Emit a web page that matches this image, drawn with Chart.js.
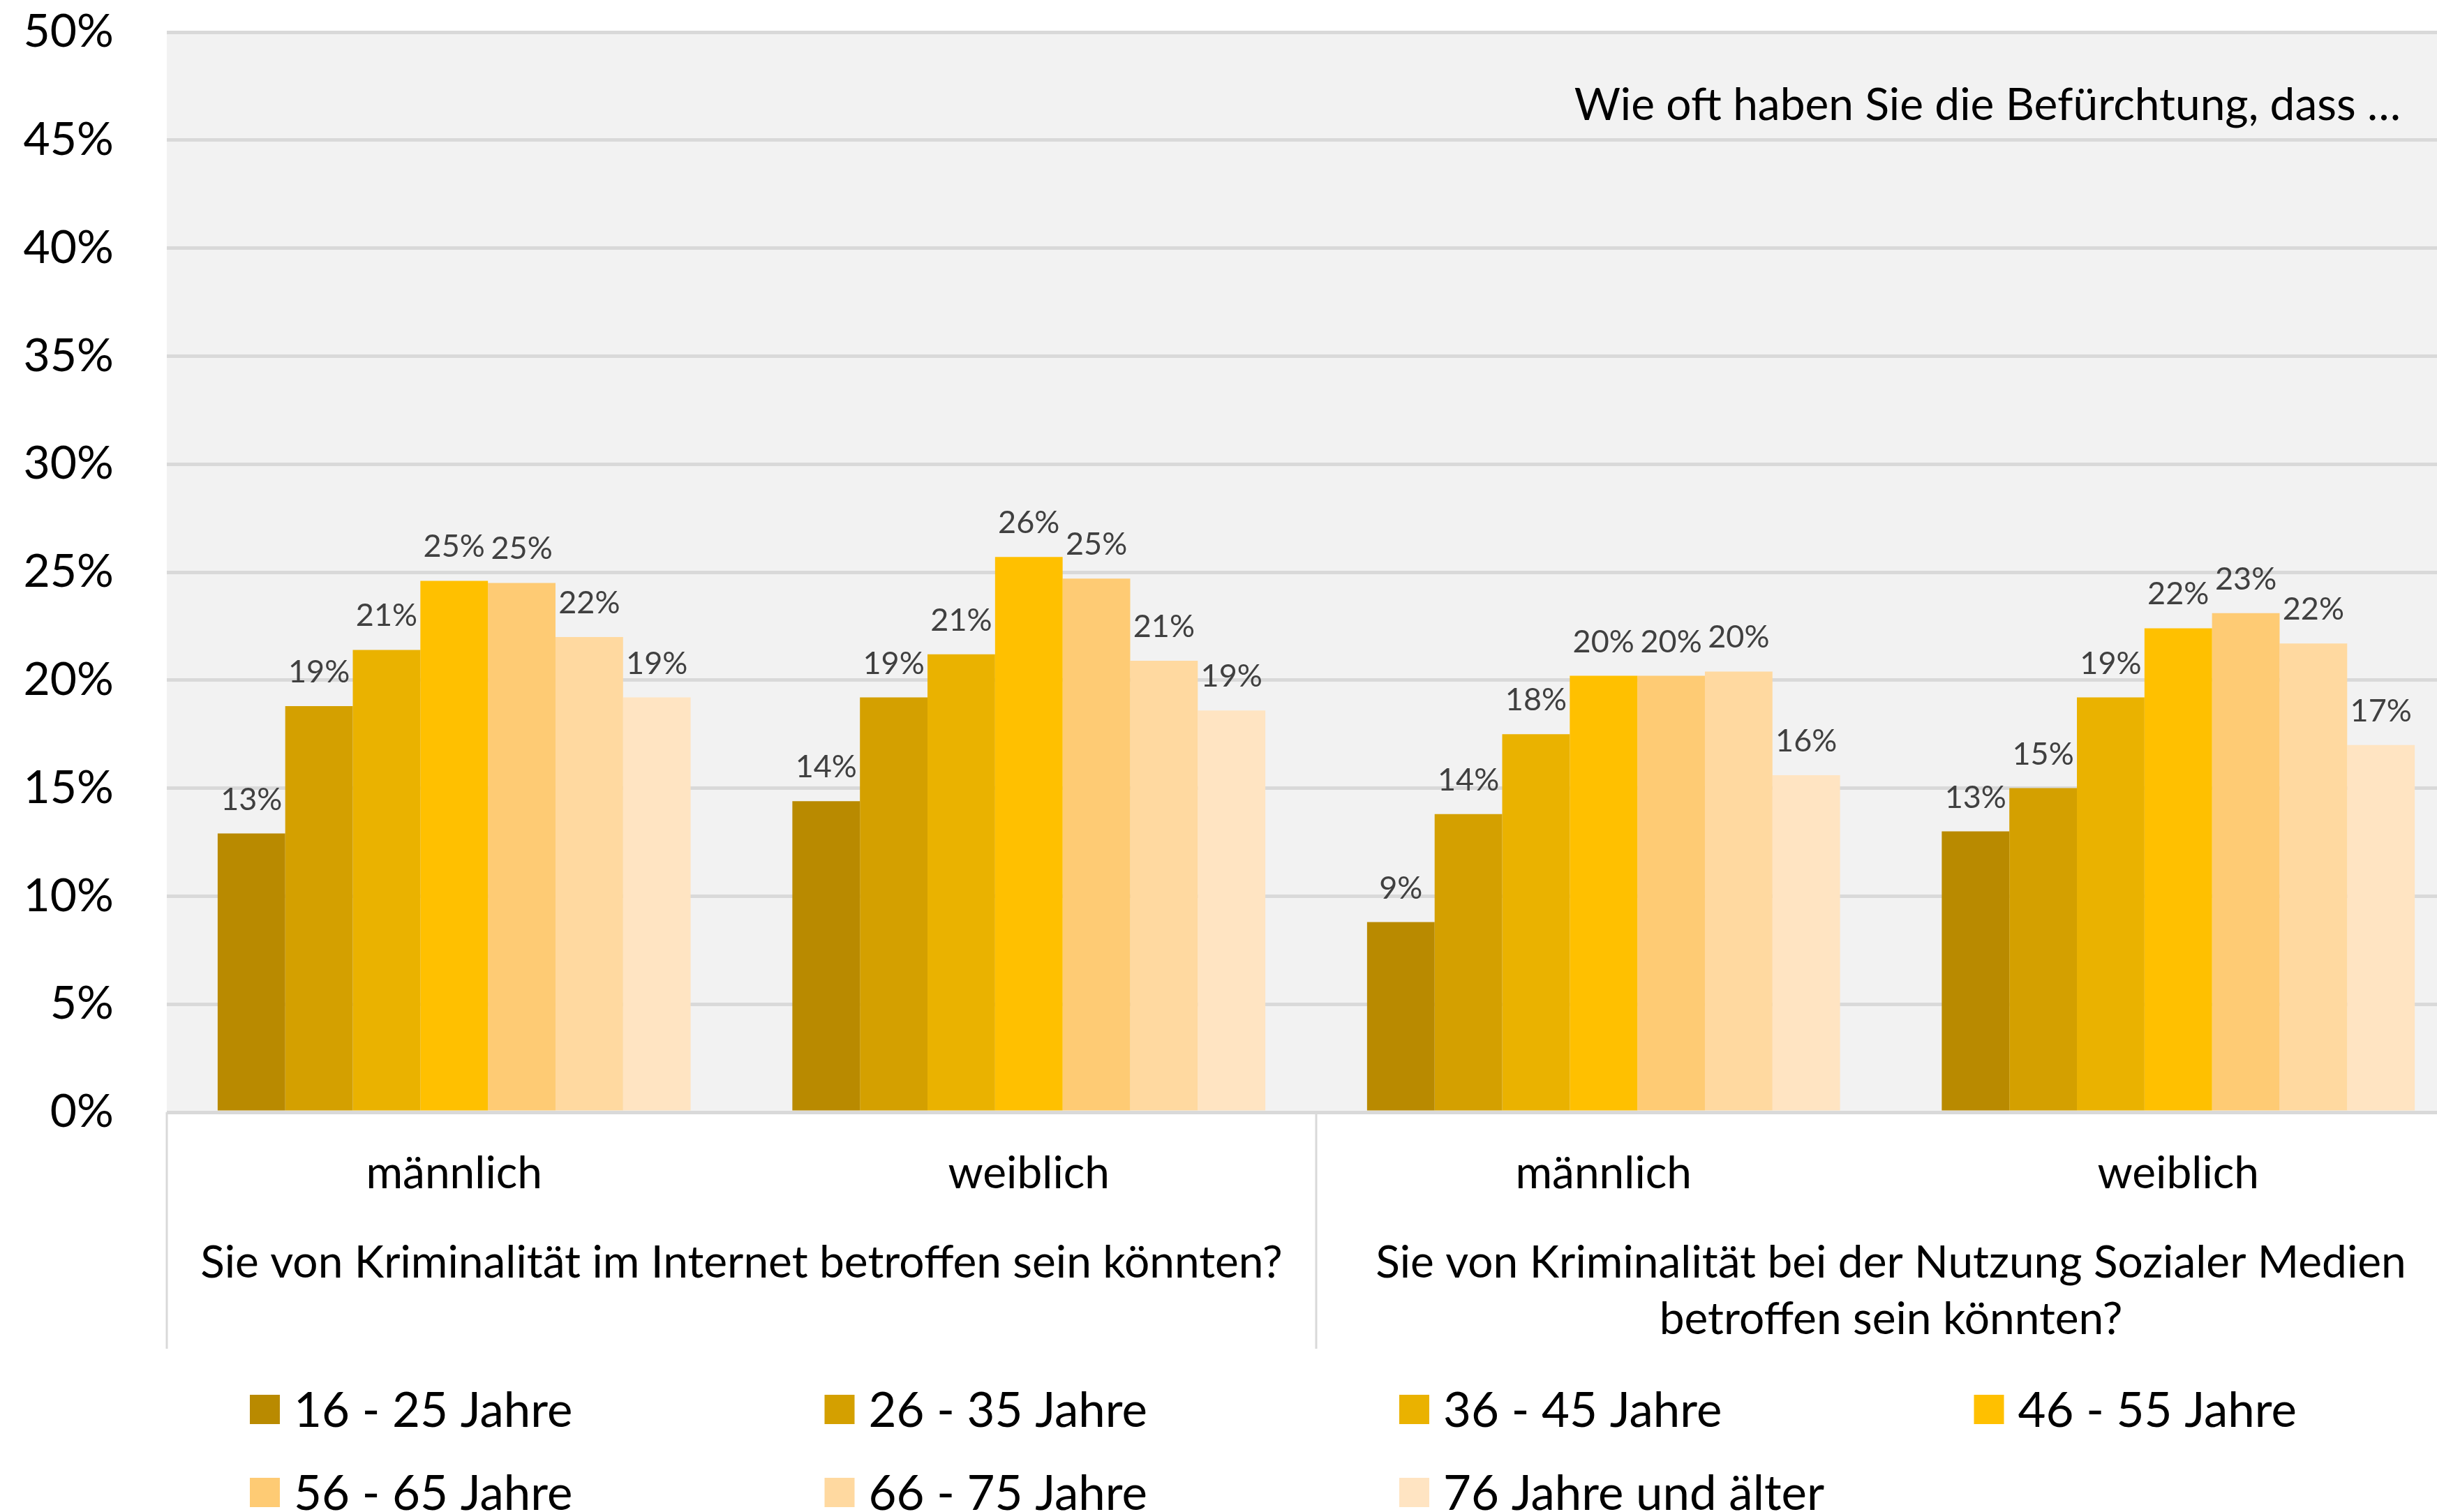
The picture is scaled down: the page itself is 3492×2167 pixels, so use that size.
<!DOCTYPE html>
<html>
<head>
<meta charset="utf-8">
<script src="https://cdn.jsdelivr.net/npm/chart.js@4/dist/chart.umd.min.js"></script>
<style>
  html, body { margin: 0; padding: 0; background: #ffffff; overflow: hidden; }
  #wrap { width: 3492px; height: 2167px; overflow: hidden; position: relative; }
  canvas { display: block; }
</style>
</head>
<body>
<div id="wrap"><canvas id="c" width="3540" height="2167" style="width:3540px;height:2167px"></canvas></div>
<script>
// ---- data ----
const categories = ["männlich", "weiblich", "männlich", "weiblich"];
const groupLabels = [
  ["Sie von Kriminalität im Internet betroffen sein könnten?"],
  ["Sie von Kriminalität bei der Nutzung Sozialer Medien", "betroffen sein könnten?"]
];
const seriesNames = ["16 - 25 Jahre", "26 - 35 Jahre", "36 - 45 Jahre", "46 - 55 Jahre",
                     "56 - 65 Jahre", "66 - 75 Jahre", "76 Jahre und älter"];
const age16_25 = [12.9, 14.4, 8.8, 13.0];
const age26_35 = [18.8, 19.2, 13.8, 15.0];
const age36_45 = [21.4, 21.2, 17.5, 19.2];
const age46_55 = [24.6, 25.7, 20.2, 22.4];
const age56_65 = [24.5, 24.7, 20.2, 23.1];
const age66_75 = [22.0, 20.9, 20.4, 21.7];
const age76plus = [19.2, 18.6, 15.6, 17.0];
const yTicks = [0, 5, 10, 15, 20, 25, 30, 35, 40, 45, 50];
const annotationText = "Wie oft haben Sie die Befürchtung, dass …";

const seriesValues = [age16_25, age26_35, age36_45, age46_55, age56_65, age66_75, age76plus];
const seriesColors = ["#B98A00", "#D4A000", "#EAB200", "#FFC000", "#FECB74", "#FFD9A0", "#FFE4C2"];

const FONT = "Lato, 'Open Sans', sans-serif";

const bgPlugin = {
  id: 'bg',
  beforeDraw(chart) {
    const {ctx, chartArea: a} = chart;
    ctx.save();
    ctx.fillStyle = '#F2F2F2';
    ctx.fillRect(a.left, a.top, a.right - a.left, a.bottom - a.top);
    ctx.restore();
  }
};

const decoPlugin = {
  id: 'deco',
  afterDraw(chart) {
    const {ctx, chartArea: a} = chart;
    const xs = chart.scales.x;
    const catW = (a.right - a.left) / categories.length;
    ctx.save();
    // data labels
    ctx.font = "45px " + FONT;
    ctx.fillStyle = '#404040';
    ctx.textAlign = 'center';
    ctx.textBaseline = 'alphabetic';
    chart.data.datasets.forEach((ds, di) => {
      const meta = chart.getDatasetMeta(di);
      meta.data.forEach((bar, i) => {
        ctx.fillText(Math.round(ds.data[i]) + '%', bar.x, bar.y - 34);
      });
    });
    // separators
    ctx.strokeStyle = '#D9D9D9';
    ctx.lineWidth = 3;
    for (let g = 0; g <= groupLabels.length; g++) {
      const x = a.left + g * 2 * catW;
      ctx.beginPath();
      ctx.moveTo(x, a.bottom);
      ctx.lineTo(x, a.bottom + 339);
      ctx.stroke();
    }
    // group labels
    ctx.font = "64px " + FONT;
    ctx.fillStyle = '#000000';
    groupLabels.forEach((lines, g) => {
      const cx = (xs.getPixelForValue(2 * g) + xs.getPixelForValue(2 * g + 1)) / 2;
      lines.forEach((t, li) => ctx.fillText(t, cx, a.bottom + 237 + li * 81));
    });
    // annotation
    ctx.textAlign = 'right';
    ctx.font = "64px " + FONT;
    ctx.fillText(annotationText, 3440, 172);
    // legend
    ctx.font = "69px " + FONT;
    ctx.textAlign = 'left';
    ctx.textBaseline = 'middle';
    seriesNames.forEach((name, i) => {
      const col = i % 4, row = Math.floor(i / 4);
      const x = a.left + 119 + col * catW;
      const y = 2020 + row * 119;
      ctx.fillStyle = seriesColors[i];
      ctx.fillRect(x, y - 21, 43, 42);
      ctx.fillStyle = '#000000';
      ctx.fillText(name, x + 63, y + 3);
    });
    ctx.restore();
  }
};

new Chart(document.getElementById('c'), {
  type: 'bar',
  data: {
    labels: categories,
    datasets: seriesNames.map((n, i) => ({
      label: n,
      data: seriesValues[i],
      backgroundColor: seriesColors[i],
      borderWidth: 0,
      barPercentage: 1.0,
      categoryPercentage: 0.823
    }))
  },
  options: {
    responsive: false,
    animation: false,
    devicePixelRatio: 1,
    layout: { padding: { top: 46, right: 7, left: 0, bottom: 0 } },
    plugins: { legend: { display: false }, tooltip: { enabled: false } },
    scales: {
      y: {
        min: 0, max: 50,
        afterBuildTicks(s) { s.ticks = yTicks.map(v => ({ value: v })); },
        afterFit(s) { s.width = 239; s.paddingTop = 0; s.paddingBottom = 0; },
        border: { display: false },
        grid: { color: '#D9D9D9', lineWidth: 5, drawTicks: false },
        ticks: {
          padding: 76,
          color: '#000000',
          font: { family: FONT, size: 66 },
          callback: v => v + '%'
        }
      },
      x: {
        afterFit(s) { s.height = 573; s.paddingLeft = 0; s.paddingRight = 0; },
        border: { display: false },
        grid: { display: false, drawTicks: false },
        ticks: {
          padding: 50,
          color: '#000000',
          maxRotation: 0,
          autoSkip: false,
          font: { family: FONT, size: 64 }
        }
      }
    }
  },
  plugins: [bgPlugin, decoPlugin]
});
</script>
</body>
</html>
